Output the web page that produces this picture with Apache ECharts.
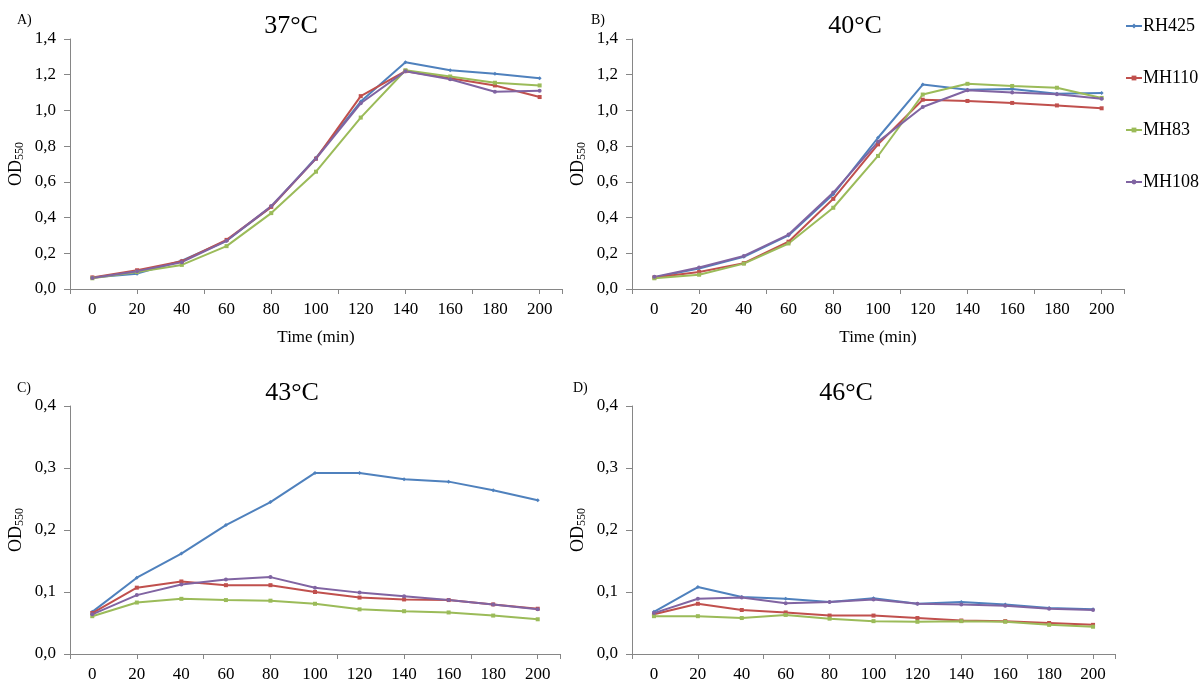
<!DOCTYPE html>
<html>
<head>
<meta charset="UTF-8">
<title>OD550 growth curves</title>
<script src="https://cdn.jsdelivr.net/npm/echarts@6/dist/echarts.min.js"></script>
<style>
  html, body { margin: 0; padding: 0; background: #fff; }
  #main { width: 1204px; height: 688px; }
</style>
</head>
<body>
<div id="main"></div>
<script>
// time points (min)
var times = ['0', '20', '40', '60', '80', '100', '120', '140', '160', '180', '200'];
var strains = ['RH425', 'MH110', 'MH83', 'MH108'];
var colors = ['#4F81BD', '#C0504D', '#9BBB59', '#8064A2'];

// 37°C
var rh425_37 = [0.064, 0.086, 0.158, 0.27, 0.46, 0.735, 1.05, 1.27, 1.225, 1.205, 1.18];
var mh110_37 = [0.065, 0.105, 0.155, 0.275, 0.46, 0.73, 1.08, 1.22, 1.18, 1.14, 1.075];
var mh83_37  = [0.06, 0.095, 0.135, 0.24, 0.425, 0.657, 0.96, 1.225, 1.19, 1.155, 1.14];
var mh108_37 = [0.062, 0.1, 0.15, 0.27, 0.465, 0.73, 1.04, 1.22, 1.175, 1.105, 1.11];

// 40°C
var rh425_40 = [0.065, 0.115, 0.18, 0.30, 0.53, 0.847, 1.145, 1.116, 1.12, 1.093, 1.097];
var mh110_40 = [0.065, 0.095, 0.145, 0.265, 0.505, 0.81, 1.06, 1.053, 1.042, 1.028, 1.012];
var mh83_40  = [0.06, 0.08, 0.142, 0.255, 0.455, 0.745, 1.089, 1.149, 1.137, 1.127, 1.07];
var mh108_40 = [0.068, 0.12, 0.185, 0.305, 0.54, 0.824, 1.019, 1.113, 1.10, 1.09, 1.065];

// 43°C
var rh425_43 = [0.068, 0.123, 0.162, 0.208, 0.245, 0.292, 0.292, 0.282, 0.278, 0.264, 0.248];
var mh110_43 = [0.066, 0.107, 0.117, 0.111, 0.111, 0.100, 0.091, 0.088, 0.087, 0.080, 0.073];
var mh83_43  = [0.061, 0.083, 0.089, 0.087, 0.086, 0.081, 0.072, 0.069, 0.067, 0.062, 0.056];
var mh108_43 = [0.064, 0.095, 0.112, 0.120, 0.124, 0.107, 0.099, 0.093, 0.087, 0.080, 0.072];

// 46°C
var rh425_46 = [0.068, 0.108, 0.092, 0.089, 0.084, 0.090, 0.081, 0.084, 0.080, 0.074, 0.072];
var mh110_46 = [0.064, 0.081, 0.071, 0.067, 0.062, 0.062, 0.058, 0.054, 0.053, 0.050, 0.047];
var mh83_46  = [0.061, 0.061, 0.058, 0.063, 0.057, 0.053, 0.052, 0.053, 0.052, 0.047, 0.044];
var mh108_46 = [0.066, 0.089, 0.091, 0.082, 0.084, 0.088, 0.081, 0.080, 0.078, 0.073, 0.071];

var panels = [
    { letter: 'A)', title: '37°C', max: 1.4, interval: 0.2, xName: 'Time (min)', data: [rh425_37, mh110_37, mh83_37, mh108_37] },
    { letter: 'B)', title: '40°C', max: 1.4, interval: 0.2, xName: 'Time (min)', data: [rh425_40, mh110_40, mh83_40, mh108_40] },
    { letter: 'C)', title: '43°C', max: 0.4, interval: 0.1, xName: '', data: [rh425_43, mh110_43, mh83_43, mh108_43] },
    { letter: 'D)', title: '46°C', max: 0.4, interval: 0.1, xName: '', data: [rh425_46, mh110_46, mh83_46, mh108_46] }
];

var grids = [
    { left: 70, top: 39, width: 492, height: 250 },
    { left: 632, top: 39, width: 492, height: 250 },
    { left: 70, top: 406, width: 490, height: 248 },
    { left: 632, top: 406, width: 483, height: 248 }
];
var titlePos = [[286, 8], [850, 8], [287, 375], [841, 375]];
var letterPos = [[12, 8], [586, 8], [12, 376], [568, 376]];
var symbols = ['diamond', 'rect', 'rect', 'circle'];

var font = 'Liberation Serif';
var axisGray = '#868686';

var myChart = echarts.init(document.getElementById('main'));

var titles = [], xAxes = [], yAxes = [], series = [];
panels.forEach(function (p, g) {
    titles.push({
        text: p.title, left: titlePos[g][0], top: titlePos[g][1], textAlign: 'center',
        textStyle: { fontFamily: font, fontSize: 26, fontWeight: 'normal', color: '#000' }
    });
    titles.push({
        text: p.letter, left: letterPos[g][0], top: letterPos[g][1],
        textStyle: { fontFamily: font, fontSize: 14, fontWeight: 'normal', color: '#000' }
    });
    // category axis: labels + data
    xAxes.push({
        type: 'category', gridIndex: g, data: times, boundaryGap: true,
        name: p.xName, nameLocation: 'middle', nameGap: 40,
        nameTextStyle: { fontFamily: font, fontSize: 17, color: '#000' },
        axisLine: { lineStyle: { color: axisGray, width: 1 } },
        axisTick: { show: false },
        axisLabel: { fontFamily: font, fontSize: 17, color: '#000', margin: 12, interval: 0 },
        splitLine: { show: false }
    });
    // tick-only axis (Excel style ticks every 1.5 categories)
    xAxes.push({
        type: 'value', gridIndex: g, min: 0, max: 11, interval: 1.5,
        position: 'bottom',
        axisLine: { show: false },
        axisTick: { show: true, length: 5, lineStyle: { color: axisGray } },
        axisLabel: { show: false },
        splitLine: { show: false }
    });
    yAxes.push({
        type: 'value', gridIndex: g, min: 0, max: p.max, interval: p.interval,
        name: '{a|OD}{b|550}', nameLocation: 'middle', nameRotate: 90, nameGap: 42,
        nameTextStyle: {
            fontFamily: font, color: '#000',
            rich: {
                a: { fontFamily: font, fontSize: 18, color: '#000', verticalAlign: 'middle', lineHeight: 24 },
                b: { fontFamily: font, fontSize: 12, color: '#000', verticalAlign: 'bottom', lineHeight: 24, padding: [0, 0, 2, 0] }
            }
        },
        axisLine: { show: true, lineStyle: { color: axisGray, width: 1 } },
        axisTick: { show: true, length: 6, lineStyle: { color: axisGray } },
        axisLabel: {
            fontFamily: font, fontSize: 17, color: '#000', margin: 14,
            formatter: function (v) { return v.toFixed(1).replace('.', ','); }
        },
        splitLine: { show: false }
    });
    p.data.forEach(function (vals, i) {
        series.push({
            name: strains[i], type: 'line',
            xAxisIndex: g * 2, yAxisIndex: g,
            data: vals,
            symbol: symbols[i], symbolSize: 4, showSymbol: true,
            lineStyle: { color: colors[i], width: 2 },
            itemStyle: { color: colors[i] },
            animation: false
        });
    });
});

var option = {
    backgroundColor: '#fff',
    animation: false,
    title: titles,
    legend: {
        data: strains, orient: 'vertical', left: 1120, top: 12,
        itemWidth: 16, itemHeight: 6, itemGap: 34,
        textStyle: { fontFamily: font, fontSize: 18, color: '#000', padding: [0, 0, 0, -4] }
    },
    grid: grids,
    xAxis: xAxes,
    yAxis: yAxes,
    series: series
};

myChart.setOption(option);
</script>
</body>
</html>
